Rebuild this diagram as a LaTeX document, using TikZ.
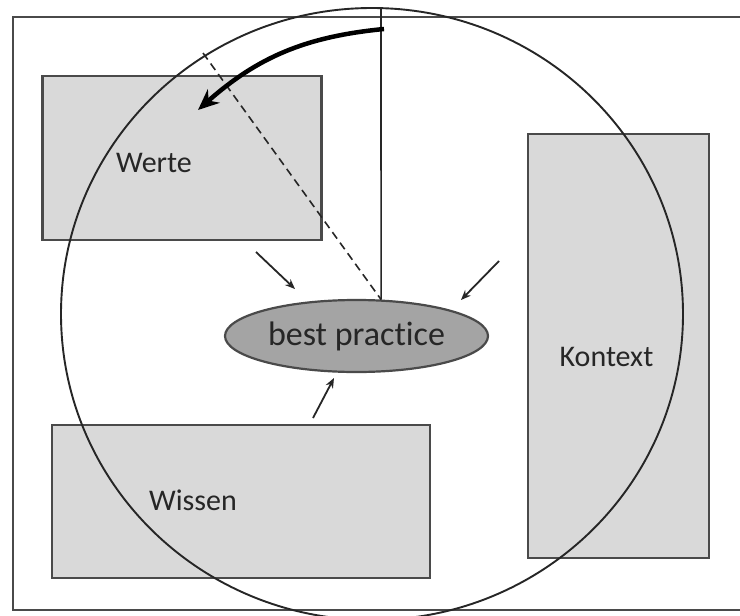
\documentclass[tikz,border=0pt]{standalone}
\usepackage{fontspec}
\setmainfont{Carlito}[Ligatures=NoCommon]
\usetikzlibrary{arrows.meta,shapes.geometric}
\definecolor{boxgray}{HTML}{D9D9D9}
\definecolor{coregray}{HTML}{A4A4A4}
\definecolor{linegray}{HTML}{4A4A4A}
\definecolor{textgray}{HTML}{262626}
\begin{document}
\begin{tikzpicture}[
    x=1pt, y=-1pt,
    field/.style={rectangle, draw=linegray, fill=boxgray, line width=2.2pt, inner sep=0pt},
    core/.style={ellipse, draw=linegray, fill=coregray, line width=2.2pt, inner sep=0pt, minimum width=263pt, minimum height=72pt, text=textgray, font=\fontsize{34}{37}\selectfont},
    fieldname/.style={text=textgray, font=\fontsize{30}{33}\selectfont},
    arrow/.style={-{Stealth[length=10pt,width=8pt]}, line width=1.8pt, draw=textgray},
    bigarrow/.style={-{Stealth[length=21pt,width=18pt]}, line width=4.5pt}
]
\clip (0,0) rectangle (740,616);
\fill[white] (0,0) rectangle (740,616);
\draw[linegray, line width=2.2pt] (745,17) -- (13,17) -- (13,610) -- (745,610);

\node[field, minimum width=279pt, minimum height=164pt] (werte) at (182,158) {};
\node[field, minimum width=378pt, minimum height=153pt] (wissen) at (241,501.5) {};
\node[field, minimum width=181pt, minimum height=424pt] (kontext) at (618.5,346) {};

\draw[textgray, line width=1.9pt] (372,314) ellipse [x radius=311pt, y radius=306pt];

\node[core] (bp) at (356.5,336) {best practice};

\coordinate (top) at (381,8);
\coordinate (rim) at (203,53);
\draw[textgray, line width=1.6pt] (top) -- (bp.56);
\draw[textgray, line width=1.6pt, dash pattern=on 8pt off 5pt] (rim) -- (bp.56);

\coordinate (swingstart) at (384,29);
\coordinate (swingend) at (198,110);
\draw[bigarrow] (swingstart) to[bend right=18] (swingend);

\coordinate (fromwerte) at (256,252);
\coordinate (towerte) at (295,289);
\coordinate (fromkontext) at (499,261);
\coordinate (tokontext) at (461,300);
\coordinate (fromwissen) at (313,418);
\coordinate (towissen) at (334,378);
\draw[arrow] (fromwerte) -- (towerte);
\draw[arrow] (fromkontext) -- (tokontext);
\draw[arrow] (fromwissen) -- (towissen);

\node[fieldname] (wertename) at (154,162.5) {Werte};
\node[fieldname] (wissenname) at (193,500) {Wissen};
\node[fieldname] (kontextname) at (606.5,357) {Kontext};
\end{tikzpicture}
\end{document}
